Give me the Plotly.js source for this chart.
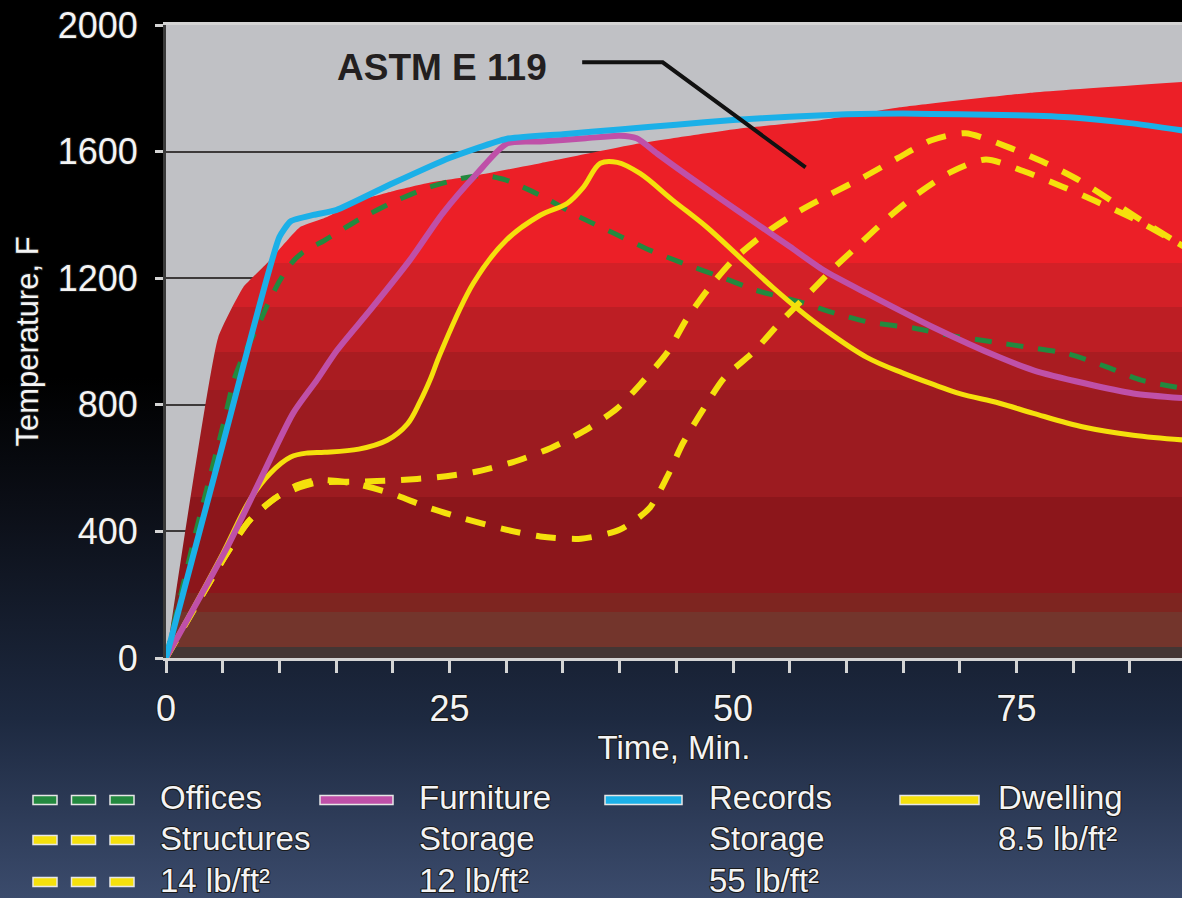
<!DOCTYPE html>
<html><head><meta charset="utf-8">
<script src="https://cdn.plot.ly/plotly-3.0.1.min.js"></script>
<style>
html,body{margin:0;padding:0;}
body{width:1182px;height:898px;overflow:hidden;background:linear-gradient(to bottom,#000 0%,#000 42%,#0b0e16 56%,#1d2940 80%,#3b4b6c 100%);}
#chart{width:1182px;height:898px;}
.xtick text,.ytick text,.g-xtitle text,.g-ytitle text,g.annotation:not([data-index="0"]) text{
  paint-order:stroke;stroke:#1a1a1a;stroke-width:2.2px;stroke-linejoin:round;}
</style></head><body><div id="chart"></div>
<script>
// ---- data (minutes, degrees F) ----
const astmX = [0, 4.6, 6.8, 8.9, 10.7, 11.8, 14.2, 17.1, 20, 23, 27.4, 33, 41.8, 50.6, 57.7, 64.7, 76.5, 90];
const astmY = [0, 1013, 1171, 1247, 1320, 1361, 1393, 1446, 1475, 1500, 1525, 1563, 1626, 1673, 1699, 1740, 1787, 1821];

const officesX = [0, 2.5, 5, 6, 7, 8, 9, 10, 11, 12, 14, 17, 20, 23, 26, 28, 30, 33, 36.5, 39.5, 42.7, 45.6, 49, 52, 56, 59, 62, 66, 69, 73, 76, 79.5, 83, 86, 90];
const officesY = [0, 380, 730, 880, 970, 1040, 1120, 1190, 1245, 1280, 1320, 1385, 1440, 1485, 1515, 1525, 1510, 1462, 1393, 1342, 1288, 1247, 1203, 1162, 1124, 1089, 1061, 1042, 1020, 998, 982, 962, 919, 878, 850];

const furnitureX = [0, 5.4, 8.3, 11.2, 13.3, 15.1, 18, 21.5, 24.4, 27.4, 30.1, 33, 37, 40, 41.5, 43.3, 46.2, 49.1, 52, 55, 58, 61.8, 67.6, 73.5, 76.5, 81, 85.3, 90];
const furnitureY = [0, 350, 562, 773, 878, 973, 1099, 1257, 1405, 1530, 1626, 1632, 1642, 1650, 1642, 1594, 1519, 1446, 1374, 1300, 1225, 1152, 1046, 950, 909, 868, 836, 820];

const recordsX = [0, 5, 10, 11, 13, 15, 20, 25, 30, 35, 40, 45, 50, 55, 60, 65, 70, 75, 80, 85, 90];
const recordsY = [0, 675, 1330, 1380, 1400, 1415, 1500, 1580, 1640, 1655, 1670, 1685, 1700, 1710, 1718, 1720, 1718, 1715, 1708, 1690, 1665];

const dwellingX = [0, 5, 7.4, 9.2, 11, 12.5, 14, 17, 19.5, 21.3, 22.4, 23.3, 24.2, 27.1, 30, 33, 35.4, 36.8, 38.3, 39.8, 41.8, 44.7, 47.7, 50.6, 53.5, 56, 58, 61.8, 65, 68, 70, 73.5, 76.5, 81, 85.3, 90];
const dwellingY = [0, 330, 500, 584, 635, 648, 650, 660, 688, 740, 810, 880, 963, 1184, 1320, 1399, 1437, 1487, 1563, 1566, 1531, 1446, 1361, 1266, 1171, 1095, 1040, 950, 900, 860, 835, 805, 773, 729, 704, 688];

const structAX = [0, 5.4, 7.4, 9.8, 13, 16.8, 20.4, 23.9, 27.1, 30.6, 33.9, 37, 39.8, 42, 44.2, 45.9, 47.8, 50, 52.5, 55.5, 58.4, 61.5, 64.5, 67.5, 70.5, 74.2, 77.5, 80.5, 83.3, 86, 90];
const structAY = [0, 332, 436, 509, 552, 557, 562, 571, 587, 619, 663, 720, 789, 872, 965, 1070, 1165, 1257, 1333, 1405, 1462, 1519, 1579, 1636, 1658, 1615, 1565, 1510, 1446, 1383, 1295];

const structBX = [0, 5.4, 7.4, 9.8, 11.5, 13.3, 16.5, 19.8, 23, 26.3, 29.7, 33, 36.6, 40, 42.6, 44.2, 45.6, 47.4, 49.2, 51.8, 54.1, 56.8, 59, 61.2, 63.8, 66.4, 69.2, 72.3, 75.7, 79, 82, 85.6, 90];
const structBY = [0, 332, 436, 509, 545, 562, 552, 521, 477, 440, 408, 384, 377, 405, 472, 573, 680, 787, 884, 967, 1058, 1156, 1236, 1309, 1395, 1470, 1535, 1575, 1537, 1490, 1443, 1383, 1295];

const yTicks = [0, 400, 800, 1200, 1600, 2000];
const xTicks = [0, 25, 50, 75];
const astmLabel = 'ASTM E 119';
const xTitle = 'Time, Min.';
const yTitle = 'Temperature, F';

// ---- styling ----
const FONT = 'Liberation Sans, Arial, sans-serif';
const TXT = '#f4f4f4';
const C = {green:'#23893f', yellow:'#f5e00c', magenta:'#bf50a8', blue:'#1bb0e8'};

// plot area in pixels
const PL = 166, PR = 1182, PT = 25, PB = 658;
const px2x = p => (p - PL) / (PR - PL);
const py2y = p => (PB - p) / (PB - PT);

const bands = [
  [0, '#443634'], [35, '#73352c'], [145, '#7e2520'], [205, '#8c161b'],
  [509, '#9c1b20'], [847, '#a91c21'], [967, '#bd1e24'], [1109, '#d32027'], [1248, '#ec1f27']
];
const cs = [];
bands.forEach((b, i) => {
  const s = b[0] / 2000, e = (i + 1 < bands.length ? bands[i + 1][0] : 2000) / 2000;
  cs.push([s, b[1]]); cs.push([e, b[1]]);
});

const traces = [
  {x: astmX, y: astmY, type:'scatter', mode:'lines', fill:'tozeroy',
   line:{width:0, color:'#ec1f27', shape:'spline', smoothing:0.4},
   fillgradient:{type:'vertical', start:0, stop:2000, colorscale:cs},
   hoverinfo:'skip', name:'ASTM E 119'},
  {x: officesX, y: officesY, mode:'lines', name:'Offices',
   line:{color:C.green, width:5, dash:'17px,15px', shape:'spline', smoothing:0.6}},
  {x: dwellingX, y: dwellingY, mode:'lines', name:'Dwelling 8.5 lb/ft²',
   line:{color:C.yellow, width:5, shape:'spline', smoothing:1.0}},
  {x: structAX, y: structAY, mode:'lines', name:'Structures 14 lb/ft²',
   line:{color:C.yellow, width:6, dash:'20px,16px', shape:'spline', smoothing:0.7}},
  {x: structBX, y: structBY, mode:'lines', name:'Structures 14 lb/ft² (2)',
   line:{color:C.yellow, width:6, dash:'20px,16px', shape:'spline', smoothing:0.7}},
  {x: furnitureX, y: furnitureY, mode:'lines', name:'Furniture Storage 12 lb/ft²',
   line:{color:C.magenta, width:6, shape:'spline', smoothing:0.7}},
  {x: recordsX, y: recordsY, mode:'lines', name:'Records Storage 55 lb/ft²',
   line:{color:C.blue, width:6, shape:'spline', smoothing:0.5}}
];

const shapes = [];
const annotations = [];

// ASTM label + leader line (annotation index 0)
annotations.push({text:'<b>' + astmLabel + '</b>', x:24.3, y:1866, xref:'x', yref:'y',
  showarrow:false, xanchor:'center', yanchor:'middle',
  font:{family:FONT, size:37, color:'#231f20'}});
shapes.push({type:'path', xref:'x', yref:'y', path:'M 36.7,1882 L 43.8,1882 L 56.4,1550',
  line:{color:'#111', width:4}});

// ---- custom legend ----
const legendCols = [
  {sx0:33, sx1:134, tx:158, dashed:true},
  {sx0:320, sx1:393, tx:417, dashed:false},
  {sx0:605, sx1:682, tx:707, dashed:false},
  {sx0:900, sx1:979, tx:996, dashed:false}
];
const rowSampleY = [800, 840, 882];
const rowTextY = [797, 838, 880];
const legendItems = [
  {col:0, rows:['Offices'], color:C.green, samples:[0]},
  {col:0, rows:[null, 'Structures', '14 lb/ft²'], color:C.yellow, samples:[1, 2]},
  {col:1, rows:['Furniture', 'Storage', '12 lb/ft²'], color:C.magenta, samples:[0]},
  {col:2, rows:['Records', 'Storage', '55 lb/ft²'], color:C.blue, samples:[0]},
  {col:3, rows:['Dwelling', '8.5 lb/ft²'], color:C.yellow, samples:[0]}
];
const lfont = {family:FONT, size:33, color:TXT};
legendItems.forEach(it => {
  const col = legendCols[it.col];
  it.samples.forEach(r => {
    const yc = rowSampleY[r];
    const segs = [];
    if (col.dashed) {
      const n = 3, w = col.sx1 - col.sx0, dl = 24, gap = (w - n * dl) / (n - 1);
      for (let k = 0; k < n; k++) segs.push([col.sx0 + k * (dl + gap), col.sx0 + k * (dl + gap) + dl]);
    } else segs.push([col.sx0, col.sx1]);
    segs.forEach(s => shapes.push({type:'rect', xref:'paper', yref:'paper',
      x0:px2x(s[0]), x1:px2x(s[1]), y0:py2y(yc - 4.5), y1:py2y(yc + 4.5),
      fillcolor:it.color, line:{color:'#e6e6e6', width:1.5}}));
  });
  it.rows.forEach((t, r) => {
    if (!t) return;
    annotations.push({text:t, xref:'paper', yref:'paper', x:px2x(col.tx), y:py2y(rowTextY[r]),
      xanchor:'left', yanchor:'middle', showarrow:false, font:lfont});
  });
});

const tickFont = {family:FONT, size:36, color:TXT};
const layout = {
  width:1182, height:898,
  margin:{l:PL, r:1182 - PR, t:PT, b:898 - PB},
  paper_bgcolor:'rgba(0,0,0,0)', plot_bgcolor:'#c0c1c5',
  showlegend:false,
  xaxis:{range:[0, (PR - PL) / 11.34], tickvals:xTicks, ticktext:xTicks.map(String),
    ticks:'outside', ticklen:12, tickwidth:3, tickcolor:'#d4d4d4',
    minor:{dtick:5, tick0:0, ticks:'outside', ticklen:12, tickwidth:3, tickcolor:'#d4d4d4', showgrid:false},
    showline:true, linecolor:'#d4d4d4', linewidth:3, mirror:true,
    showgrid:false, zeroline:false, tickfont:tickFont, ticklabelstandoff:5,
    title:{text:xTitle, font:{family:FONT, size:33, color:TXT}, standoff:2}},
  yaxis:{range:[0, 2000], tickvals:yTicks, ticks:'outside', ticklen:8, tickwidth:3, tickcolor:'#d4d4d4',
    showline:true, linecolor:'#3a3a3a', linewidth:3,
    showgrid:true, gridcolor:'#3d3a3a', gridwidth:2, zeroline:false,
    tickfont:tickFont, ticklabelstandoff:10,
    title:{text:yTitle, font:{family:FONT, size:31, color:TXT}, standoff:10}},
  shapes:shapes, annotations:annotations
};
Plotly.newPlot('chart', traces, layout, {displayModeBar:false, staticPlot:true});
</script>
</body></html>
